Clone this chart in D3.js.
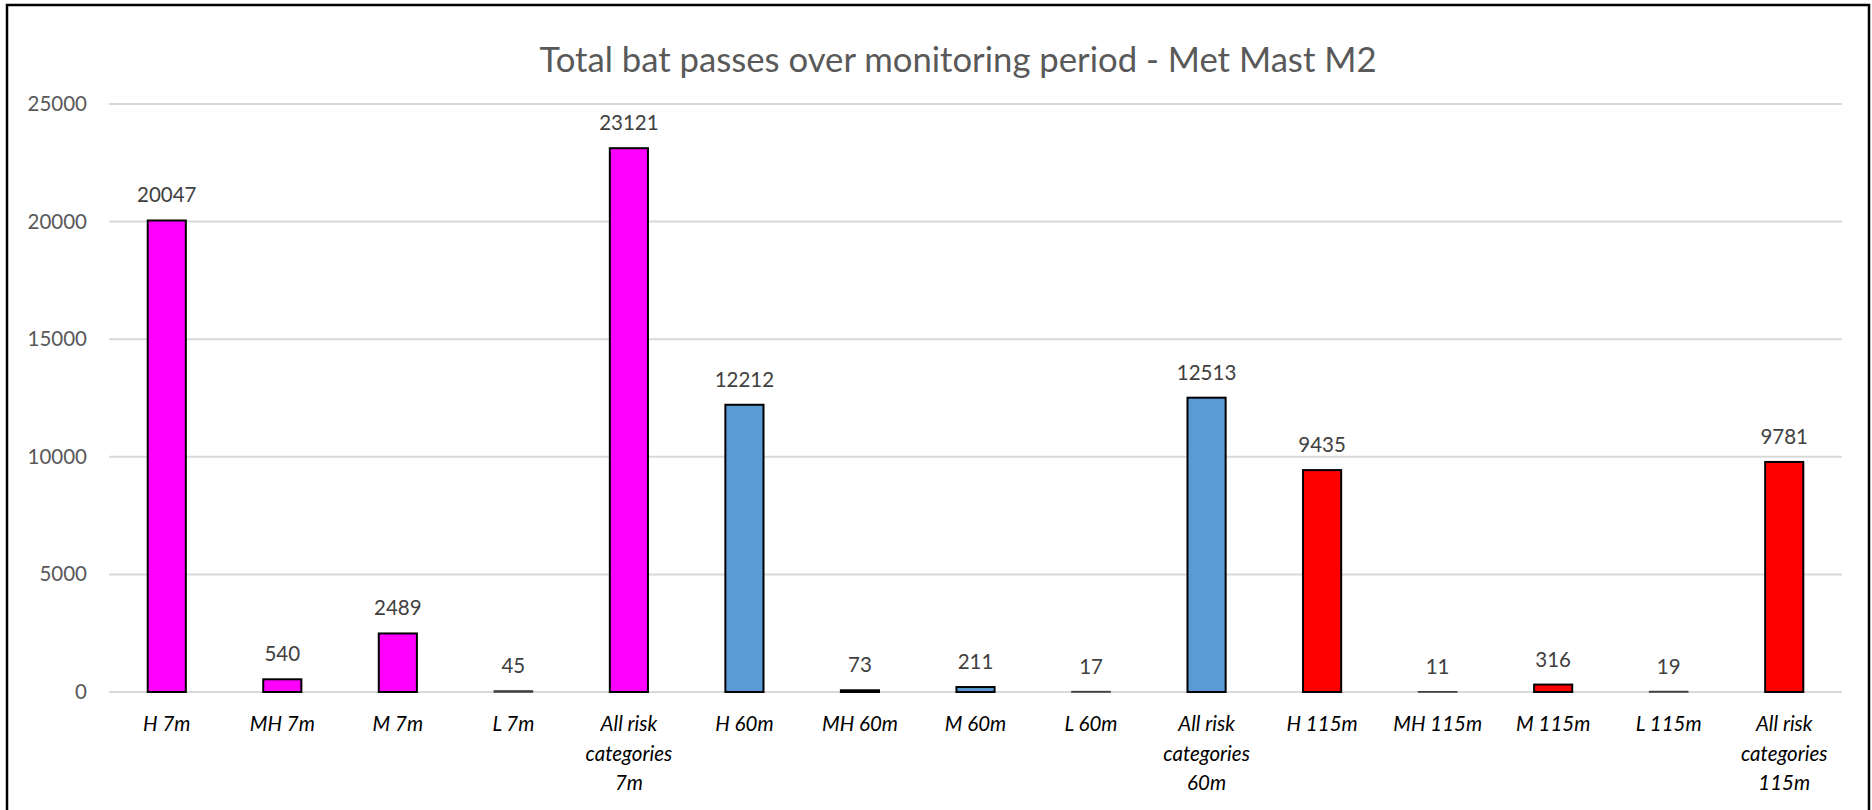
<!DOCTYPE html>
<html>
<head>
<meta charset="utf-8">
<script src="https://cdn.jsdelivr.net/npm/d3@7"></script>
<style>
  html, body { margin: 0; padding: 0; background: #fff; }
  svg { display: block; font-family: Lato, "Open Sans", sans-serif; }
</style>
</head>
<body>
<div id="chart"></div>
<script>
// Datos
var categories = ["H 7m", "MH 7m", "M 7m", "L 7m", "All risk categories 7m",
                  "H 60m", "MH 60m", "M 60m", "L 60m", "All risk categories 60m",
                  "H 115m", "MH 115m", "M 115m", "L 115m", "All risk categories 115m"];
var passes = [20047, 540, 2489, 45, 23121,
              12212, 73, 211, 17, 12513,
              9435, 11, 316, 19, 9781];
var heights = ["7m", "7m", "7m", "7m", "7m",
               "60m", "60m", "60m", "60m", "60m",
               "115m", "115m", "115m", "115m", "115m"];
var yTicks = [0, 5000, 10000, 15000, 20000, 25000];
var title = "Total bat passes over monitoring period - Met Mast M2";

var data = categories.map(function(c, i) {
    return { cat: c, value: passes[i], height: heights[i] };
});

// Dimensiones
var width = 1872, height = 810;
var plot = { left: 109, right: 1842, top: 104, bottom: 692 };

var color = d3.scaleOrdinal()
    .domain(["7m", "60m", "115m"])
    .range(["#ff00ff", "#5b9bd5", "#ff0000"]);

var svg = d3.select("#chart")
    .append("svg")
    .attr("width", width)
    .attr("height", height);

// Marco del área del gráfico
svg.append("rect")
    .attr("x", 7).attr("y", 5)
    .attr("width", 1862).attr("height", 840)
    .attr("fill", "none")
    .attr("stroke", "#000")
    .attr("stroke-width", 2.5);

var xScale = d3.scaleBand()
    .domain(categories)
    .range([plot.left, plot.right])
    .paddingInner(0.67)
    .paddingOuter(0.335);

var yScale = d3.scaleLinear()
    .domain([0, 25000])
    .range([plot.bottom, plot.top]);

// Líneas de cuadrícula
svg.append("g")
    .selectAll("line")
    .data(yTicks)
    .enter().append("line")
    .attr("x1", plot.left).attr("x2", plot.right)
    .attr("y1", function(d) { return yScale(d); })
    .attr("y2", function(d) { return yScale(d); })
    .attr("stroke", "#d9d9d9")
    .attr("stroke-width", 2);

// Eje y
var yAxis = svg.append("g")
    .attr("transform", "translate(" + (plot.left - 22) + ",0)")
    .call(d3.axisLeft(yScale).tickValues(yTicks).tickSize(0).tickPadding(0).tickFormat(d3.format("d")));
yAxis.select(".domain").remove();
yAxis.selectAll("text")
    .attr("fill", "#595959")
    .style("font-size", "20.5px")
    .style("font-family", "Lato, sans-serif");

// Barras
svg.selectAll(".bar")
    .data(data)
    .enter().append("rect")
    .attr("class", "bar")
    .attr("x", function(d) { return xScale(d.cat); })
    .attr("width", xScale.bandwidth())
    .attr("y", function(d) { return yScale(d.value); })
    .attr("height", function(d) { return yScale(0) - yScale(d.value); })
    .attr("fill", function(d) { return color(d.height); })
    .attr("stroke", function(d) { return d.value < 50 ? "#404040" : "#000"; })
    .attr("stroke-width", function(d) { return d.value < 50 ? 1.5 : 2; });

// Etiquetas de datos
svg.selectAll(".label")
    .data(data)
    .enter().append("text")
    .attr("class", "label")
    .attr("x", function(d) { return xScale(d.cat) + xScale.bandwidth() / 2; })
    .attr("y", function(d) { return yScale(d.value) - 18; })
    .attr("text-anchor", "middle")
    .attr("fill", "#404040")
    .style("font-size", "20.5px")
    .text(function(d) { return d.value; });

// Etiquetas de categoría (con salto de línea)
var catLabels = svg.selectAll(".cat")
    .data(categories)
    .enter().append("text")
    .attr("class", "cat")
    .attr("text-anchor", "middle")
    .attr("fill", "#000")
    .style("font-size", "20.5px")
    .style("font-style", "italic")
    .attr("x", function(d) { return xScale(d) + xScale.bandwidth() / 2; })
    .attr("y", 731);

catLabels.each(function(d) {
    var text = d3.select(this);
    var words = d.split(" ");
    var lines = [];
    var line = [];
    var probe = text.append("tspan");
    words.forEach(function(w) {
        line.push(w);
        probe.text(line.join(" "));
        if (probe.node().getComputedTextLength() > 100 && line.length > 1) {
            line.pop();
            lines.push(line.join(" "));
            line = [w];
        }
    });
    lines.push(line.join(" "));
    probe.remove();
    var x = text.attr("x");
    lines.forEach(function(l, i) {
        text.append("tspan")
            .attr("x", x)
            .attr("dy", i === 0 ? 0 : 29.5)
            .text(l);
    });
});

// Título
svg.append("text")
    .attr("x", 958)
    .attr("y", 72)
    .attr("text-anchor", "middle")
    .attr("fill", "#595959")
    .style("font-size", "34.7px")
    .text(title);
</script>
</body>
</html>
